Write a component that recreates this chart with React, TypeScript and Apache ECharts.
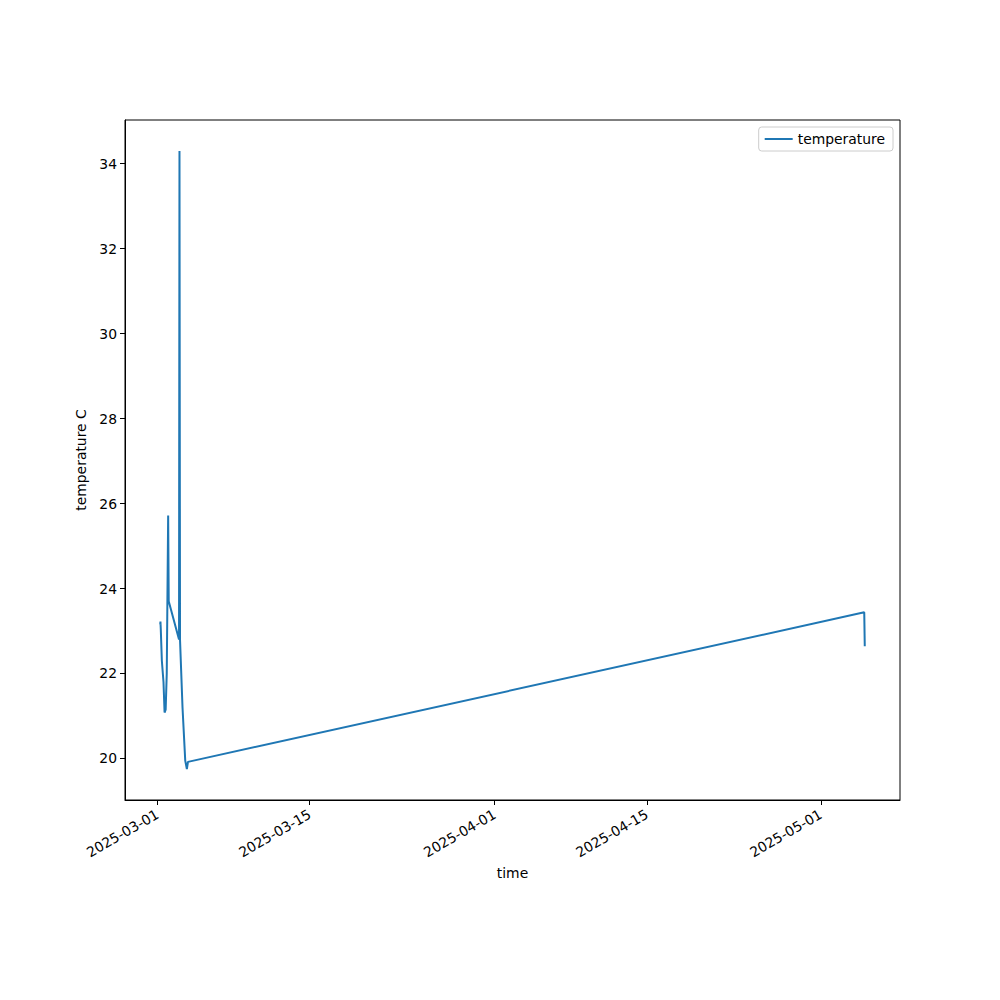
import React, { useEffect, useRef } from "react";
import * as echarts from "echarts";

const times: string[] = [
  "2025-03-01T06:00:00Z",
  "2025-03-01T06:30:00Z",
  "2025-03-01T07:12:00Z",
  "2025-03-01T09:36:00Z",
  "2025-03-01T13:12:00Z",
  "2025-03-01T15:36:00Z",
  "2025-03-01T18:00:00Z",
  "2025-03-01T20:24:00Z",
  "2025-03-01T23:30:00Z",
  "2025-03-02T00:45:00Z",
  "2025-03-02T23:30:00Z",
  "2025-03-03T00:30:00Z",
  "2025-03-03T01:40:00Z",
  "2025-03-03T07:12:00Z",
  "2025-03-03T13:12:00Z",
  "2025-03-03T16:48:00Z",
  "2025-03-03T19:12:00Z",
  "2025-05-05T00:00:00Z",
  "2025-05-05T01:10:00Z",
];

const temperature: number[] = [
  23.15, 23.22, 23.05, 22.3, 21.8, 21.08, 21.15, 22.0, 25.72, 23.7, 22.8, 34.3,
  22.8, 21.2, 19.95, 19.75, 19.92, 23.44, 22.64,
];

const xTickLabels: string[] = [
  "2025-03-01",
  "2025-03-15",
  "2025-04-01",
  "2025-04-15",
  "2025-05-01",
];

const yTickValues: number[] = [20, 22, 24, 26, 28, 30, 32, 34];

const FONT = "DejaVu Sans";

function fmtDate(v: number): string {
  const d = new Date(v);
  const p = (n: number) => String(n).padStart(2, "0");
  return `${d.getUTCFullYear()}-${p(d.getUTCMonth() + 1)}-${p(d.getUTCDate())}`;
}

export default function App() {
  const ref = useRef<HTMLDivElement>(null);

  useEffect(() => {
    if (!ref.current) return;
    const chart = echarts.init(ref.current, undefined, { renderer: "svg" });

    const ts = times.map((t) => Date.parse(t));
    const tMin = Math.min(...ts);
    const tMax = Math.max(...ts);
    const tPad = (tMax - tMin) * 0.05;
    const vMin = Math.min(...temperature);
    const vMax = Math.max(...temperature);
    const vPad = (vMax - vMin) * 0.05;
    const xTicks = xTickLabels.map((s) => Date.parse(s + "T00:00:00Z"));

    chart.setOption({
      animation: false,
      backgroundColor: "#ffffff",
      grid: {
        left: 125,
        right: 100,
        top: 120,
        bottom: 200,
        show: true,
        borderColor: "#000",
        borderWidth: 1,
        backgroundColor: "transparent",
      },
      legend: {
        right: 107,
        top: 127,
        data: ["temperature"],
        icon: "rect",
        itemWidth: 28,
        itemHeight: 2,
        itemGap: 10,
        padding: [5, 8, 5, 6],
        borderColor: "#cccccc",
        borderWidth: 1,
        borderRadius: 3,
        backgroundColor: "#ffffff",
        textStyle: { fontFamily: FONT, fontSize: 13.9, color: "#000" },
      },
      xAxis: {
        type: "value",
        min: tMin - tPad,
        max: tMax + tPad,
        name: "time",
        nameLocation: "middle",
        nameGap: 66,
        nameTextStyle: { fontFamily: FONT, fontSize: 13.9, color: "#000" },
        splitLine: { show: false },
        axisLine: { show: true, onZero: false, lineStyle: { color: "#000", width: 1 } },
        axisTick: {
          show: true,
          length: 5,
          lineStyle: { color: "#000" },
          customValues: xTicks,
        },
        axisLabel: {
          show: true,
          rotate: 30,
          margin: 13,
          fontFamily: FONT,
          fontSize: 13.9,
          color: "#000",
          customValues: xTicks,
          formatter: (v: number) => fmtDate(v),
        },
      },
      yAxis: {
        type: "value",
        min: vMin - vPad,
        max: vMax + vPad,
        name: "temperature C",
        nameLocation: "middle",
        nameGap: 33,
        nameRotate: 90,
        nameTextStyle: { fontFamily: FONT, fontSize: 13.9, color: "#000" },
        splitLine: { show: false },
        axisLine: { show: true, onZero: false, lineStyle: { color: "#000", width: 1 } },
        axisTick: {
          show: true,
          length: 5,
          lineStyle: { color: "#000" },
          customValues: yTickValues,
        },
        axisLabel: {
          show: true,
          margin: 8,
          fontFamily: FONT,
          fontSize: 13.9,
          color: "#000",
          customValues: yTickValues,
          formatter: (v: number) => String(Math.round(v)),
        },
      },
      series: [
        {
          name: "temperature",
          type: "line",
          data: ts.map((t, i) => [t, temperature[i]]),
          showSymbol: false,
          symbol: "none",
          lineStyle: { color: "#1f77b4", width: 2 },
          itemStyle: { color: "#1f77b4" },
        },
      ],
    });

    return () => chart.dispose();
  }, []);

  return (
    <div
      ref={ref}
      style={{ position: "fixed", left: 0, top: 0, width: 1000, height: 1000 }}
    />
  );
}
